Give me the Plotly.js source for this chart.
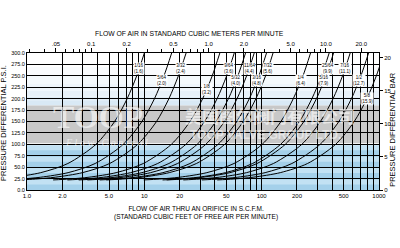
<!DOCTYPE html>
<html>
<head>
<meta charset="utf-8">
<script src="https://cdn.plot.ly/plotly-3.0.1.min.js"></script>
<style>
  html, body { margin: 0; padding: 0; background: #ffffff; }
  #chart { width: 400px; height: 248px; }
</style>
</head>
<body>
<div id="chart"></div>
<script>
// Pressure differential levels (psi) at which each orifice curve is read
const pressures = [22, 24, 28, 38, 58, 100, 150, 200, 250, 300];

// Orifice sizes: inch fraction and millimetres
const sizeLabels = ["1/16", "5/64", "3/32", "1/8", "9/64", "5/32", "11/64", "3/16",
                    "7/32", "1/4", "5/16", "25/64", "7/16", "1/2", "5/8"];
const sizeMm = ["1.6", "2.0", "2.4", "3.2", "3.6", "4.0", "4.4", "4.8",
                "5.6", "6.4", "7.9", "9.9", "11.1", "12.7", "15.9"];

// Flow (SCFM) through each orifice at the pressure levels above
const flow_1_16  = [0.379, 0.518, 0.768, 1.31, 2.23, 3.87, 5.58, 7.14, 8.61, 10.0];
const flow_5_64  = [0.648, 0.886, 1.31, 2.24, 3.81, 6.61, 9.54, 12.2, 14.7, 17.1];
const flow_3_32  = [0.860, 1.18, 1.74, 2.97, 5.06, 8.78, 12.7, 16.2, 19.5, 22.7];
const flow_1_8   = [1.67, 2.28, 3.38, 5.75, 9.80, 17.0, 24.5, 31.4, 37.9, 44.0];
const flow_9_64  = [2.21, 3.03, 4.49, 7.63, 13.0, 22.6, 32.6, 41.7, 50.3, 58.4];
const flow_5_32  = [2.76, 3.78, 5.60, 9.53, 16.2, 28.2, 40.7, 52.1, 62.7, 72.9];
const flow_11_64 = [3.27, 4.48, 6.64, 11.3, 19.2, 33.4, 48.2, 61.7, 74.4, 86.4];
const flow_3_16  = [4.17, 5.70, 8.45, 14.4, 24.5, 42.5, 61.4, 78.5, 94.7, 110];
const flow_7_32  = [4.74, 6.48, 9.60, 16.3, 27.8, 48.4, 69.7, 89.3, 108, 125];
const flow_1_4   = [9.89, 13.5, 20.0, 34.1, 58.1, 101, 146, 186, 225, 261];
const flow_5_16  = [15.5, 21.2, 31.5, 53.6, 91.3, 159, 229, 293, 353, 410];
const flow_25_64 = [14.3, 19.5, 28.9, 49.1, 83.7, 145, 210, 268, 324, 376];
const flow_7_16  = [21.5, 29.4, 43.6, 74.2, 126, 220, 317, 406, 489, 568];
const flow_1_2   = [30.9, 42.2, 62.6, 107, 181, 315, 455, 582, 701, 815];
const flow_5_8   = [41.8, 57.1, 84.7, 144, 246, 427, 615, 788, 949, 1103];

const flows = [flow_1_16, flow_5_64, flow_3_32, flow_1_8, flow_9_64, flow_5_32,
               flow_11_64, flow_3_16, flow_7_32, flow_1_4, flow_5_16, flow_25_64,
               flow_7_16, flow_1_2, flow_5_8];

// Where each size tag is set: flow (SCFM) and pressure (psi)
const tagFlow = [9.0, 14.2, 20.5, 34.2, 52.7, 60.4, 78.0, 91.2, 113, 216, 340, 367, 513, 676, 791];
const tagPsi  = [265, 239, 265, 221, 265, 239, 265, 239, 265, 239, 239, 265, 265, 239, 201];

// Bottom axis (SCFM): labelled ticks and the full log grid
const scfmLabelVals = [1, 2, 5, 10, 20, 50, 100, 200, 500, 1000];
const scfmLabelText = ["1.0", "2.0", "5.0", "10", "20", "50", "100", "200", "500", "1000"];
const scfmGridVals = [3, 4, 6, 7, 8, 9, 30, 40, 60, 70, 80, 90, 300, 400, 600, 700, 800, 900];

// Top axis (cubic metres per minute)
const cmmLabelVals = [0.05, 0.1, 0.2, 0.5, 1, 2, 5, 10, 20];
const cmmLabelText = [".05", "0.1", "0.2", "0.5", "1.0", "2.0", "5.0", "10.0", "20.0"];
const cmmMinorVals = [0.03, 0.04, 0.06, 0.07, 0.08, 0.09, 0.3, 0.4, 0.6, 0.7, 0.8, 0.9,
                      3, 4, 6, 7, 8, 9];

// Left (psi) and right (bar) axes
const psiTicks = [0, 25, 50, 75, 100, 125, 150, 175, 200, 225, 250, 275, 300];
const barTicks = [0, 5, 10, 15, 20];

const SCFM_PER_CMM = 35.3147;
const BAR_PER_PSI = 0.0689476;

const FONT = "Liberation Sans, Arial, sans-serif";

const traces = flows.map(fl => ({
  type: "scatter", mode: "lines", x: fl, y: pressures,
  line: { color: "#000000", width: 1, shape: "spline", smoothing: 0.8 },
  hoverinfo: "skip", showlegend: false
}));

// empty traces that switch on the top and right axes
traces.push({ type: "scatter", x: [1, 1000], y: [0, 0], xaxis: "x2", yaxis: "y", mode: "none",
  showlegend: false, hoverinfo: "skip" });
traces.push({ type: "scatter", x: [1, 1000], y: [0, 0], xaxis: "x", yaxis: "y2", mode: "none",
  showlegend: false, hoverinfo: "skip" });

const shapes = [];
// pale upper region fading down to light blue
const topBands = [[185, 195, "#d9e9f5"], [195, 205, "#e0edf7"], [205, 218, "#e7f1f9"],
                  [218, 232, "#eef5fb"], [232, 250, "#f4f9fc"], [250, 270, "#f9fbfd"],
                  [270, 300, "#ffffff"]];
topBands.forEach(b => shapes.push({ type: "rect", xref: "paper", yref: "y", x0: 0, x1: 1,
  y0: b[0], y1: b[1], fillcolor: b[2], line: { width: 0 }, layer: "below" }));
// grey middle band
shapes.push({ type: "rect", xref: "paper", yref: "y", x0: 0, x1: 1, y0: 100, y1: 185,
  fillcolor: "#c8c8c8", line: { width: 0 }, layer: "below" });
// light blue lower region with paler stripes
shapes.push({ type: "rect", xref: "paper", yref: "y", x0: 0, x1: 1, y0: 0, y1: 100,
  fillcolor: "#a4d0ea", line: { width: 0 }, layer: "below" });
[0, 25, 50, 75].forEach(v => shapes.push({ type: "rect", xref: "paper", yref: "y", x0: 0, x1: 1,
  y0: v + 12, y1: v + 23, fillcolor: "#c2e1f3", line: { width: 0 }, layer: "below" }));
// white rule along the top of the blue region
shapes.push({ type: "line", xref: "paper", yref: "y", x0: 0, x1: 1, y0: 100, y1: 100,
  line: { color: "#ffffff", width: 2 }, layer: "below" });

const annotations = [];
// size tags set on the curves
sizeLabels.forEach((s, i) => {
  annotations.push({
    x: Math.log10(tagFlow[i]), y: tagPsi[i], xref: "x", yref: "y",
    text: s + "<br>(" + sizeMm[i] + ")",
    showarrow: false, font: { family: FONT, size: 4.5, color: "#000" },
    bgcolor: "#ffffff", borderpad: 0, xanchor: "center", yanchor: "middle"
  });
});

// axis titles
annotations.push({ text: "FLOW OF AIR IN STANDARD CUBIC METERS PER MINUTE", xref: "paper", yref: "paper",
  x: 0.463, y: 1.185, showarrow: false, font: { family: FONT, size: 6.8, color: "#000" } });
annotations.push({ text: "FLOW OF AIR THRU AN ORIFICE IN S.C.F.M.<br>(STANDARD CUBIC FEET OF FREE AIR PER MINUTE)",
  xref: "paper", yref: "paper", x: 0.48, y: -0.095, yanchor: "top", showarrow: false,
  font: { family: FONT, size: 6.5, color: "#000" } });
annotations.push({ text: "PRESSURE DIFFERENTIAL P.S.I.", xref: "paper", yref: "paper",
  x: -0.065, y: 0.49, textangle: -90, showarrow: false, xanchor: "center",
  font: { family: FONT, size: 7.5, color: "#000" } });
annotations.push({ text: "PRESSURE DIFFERENTIAL BAR", xref: "paper", yref: "paper",
  x: 1.04, y: 0.44, textangle: -90, showarrow: false, xanchor: "center",
  font: { family: FONT, size: 7.5, color: "#000" } });

// maker's mark across the grey band
annotations.push({ text: "<b>TOOP</b>", xref: "x", yref: "y", x: Math.log10(4.03), y: 160,
  xanchor: "center", showarrow: false,
  font: { family: "Liberation Serif, serif", size: 32, color: "rgba(255,255,255,0.6)" } });
annotations.push({ text: "<i>F l o w   C o n t r o l</i>", xref: "x", yref: "y", x: Math.log10(4.8), y: 104,
  xanchor: "center", showarrow: false,
  font: { family: "Liberation Serif, serif", size: 10, color: "rgba(255,255,255,0.6)" } });
annotations.push({ text: "<b>美国图尔阀门有限公司</b>", xref: "x", yref: "y", x: Math.log10(118), y: 163,
  xanchor: "center", showarrow: false,
  font: { family: "Noto Sans CJK SC", size: 17, color: "rgba(255,255,255,0.6)" } });
annotations.push({ text: "<b>TOOP VALVE GROUP LTD.</b>", xref: "x", yref: "y", x: Math.log10(107), y: 121,
  xanchor: "center", showarrow: false,
  font: { family: FONT, size: 12, color: "rgba(255,255,255,0.55)" } });

const layout = {
  width: 400, height: 248,
  margin: { l: 27, r: 21, t: 53, b: 58, pad: 0 },
  paper_bgcolor: "#ffffff", plot_bgcolor: "#ffffff",
  font: { family: FONT, size: 6, color: "#000" },
  showlegend: false,
  xaxis: {
    type: "log", range: [0, 3],
    tickvals: scfmLabelVals, ticktext: scfmLabelText,
    showgrid: true, gridcolor: "#000000", gridwidth: 1,
    minor: { tickvals: scfmGridVals, showgrid: true, gridcolor: "#000000", gridwidth: 1, ticks: "" },
    ticks: "", tickfont: { family: FONT, size: 6, color: "#000" },
    showline: true, linecolor: "#000", linewidth: 1, zeroline: false
  },
  xaxis2: {
    type: "log", overlaying: "x", side: "top",
    range: [Math.log10(1 / SCFM_PER_CMM), Math.log10(1000 / SCFM_PER_CMM)],
    tickvals: cmmLabelVals, ticktext: cmmLabelText,
    ticks: "outside", ticklen: 4, tickcolor: "#000", tickwidth: 1,
    minor: { tickvals: cmmMinorVals, ticks: "outside", ticklen: 3, tickcolor: "#000", showgrid: false },
    showgrid: false, showline: true, linecolor: "#000", linewidth: 1,
    tickfont: { family: FONT, size: 6, color: "#000" }
  },
  yaxis: {
    range: [0, 300], tickvals: psiTicks, ticktext: psiTicks.map(v => v.toFixed(1)),
    showgrid: true, gridcolor: "#000000", gridwidth: 1, ticks: "",
    tickfont: { family: FONT, size: 5.5, color: "#000" },
    showline: true, linecolor: "#000", linewidth: 1, zeroline: false
  },
  yaxis2: {
    overlaying: "y", side: "right", range: [0, 300 * BAR_PER_PSI],
    tickvals: barTicks, ticks: "outside", ticklen: 3, tickcolor: "#000",
    showgrid: false, showline: true, linecolor: "#000", linewidth: 1, zeroline: false,
    tickfont: { family: FONT, size: 6, color: "#000" }
  },
  shapes: shapes,
  annotations: annotations
};

Plotly.newPlot("chart", traces, layout, { staticPlot: true, displayModeBar: false });
</script>
</body>
</html>
